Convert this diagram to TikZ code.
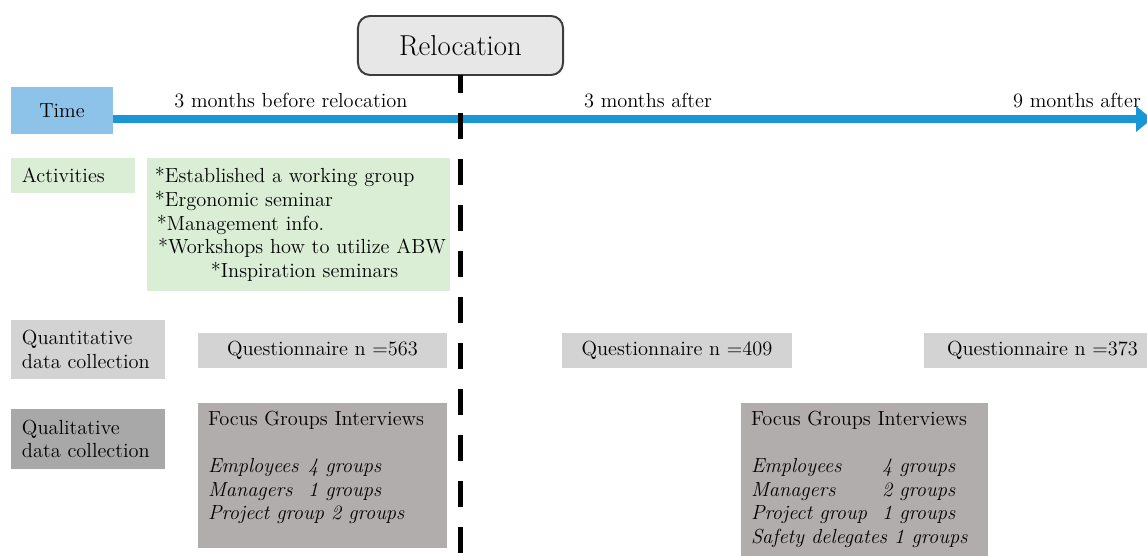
\documentclass[tikz,border=0pt]{standalone}
\usepackage{fontspec}
\usepackage{tikz}
\usetikzlibrary{arrows.meta}
\definecolor{timeBlue}{RGB}{142,195,233}
\definecolor{axisBlue}{RGB}{24,150,214}
\definecolor{actGreen}{RGB}{218,238,214}
\definecolor{quantGray}{RGB}{211,211,211}
\definecolor{qualGray}{RGB}{168,168,168}
\definecolor{focusGray}{RGB}{178,173,173}
\definecolor{relocGray}{RGB}{231,231,231}
\definecolor{relocEdge}{RGB}{60,60,60}
\newcommand{\txtsize}{\fontsize{14.5}{16.8}\selectfont}

\begin{document}
\begin{tikzpicture}[x=0.025cm, y=-0.025cm,
  box/.style={inner sep=0pt, outer sep=0pt, font=\txtsize},
  rowlabel/.style={box, align=left, inner xsep=0.275cm},
  quest/.style={box, fill=quantGray, minimum height=0.875cm},
  focus/.style={box, fill=focusGray, anchor=north west, inner xsep=0.25cm, inner ysep=0.2cm},
  timeline/.style={axisBlue, line width=0.2cm, -{Triangle[length=0.4cm, width=0.625cm]}},
  cutline/.style={black, line width=3.5pt, dash pattern=on 0.65cm off 0.5cm, dash phase=0.2cm}]
\useasboundingbox (0,0) rectangle (1147,556);
\clip (0,0) rectangle (1147,556);

% header and time axis
\node[box, fill=relocGray, draw=relocEdge, line width=1.4pt, rounded corners=0.3cm,
  minimum width=5.125cm, minimum height=1.475cm, font=\fontsize{20.5}{24}\selectfont] (reloc) at (460.5,45.5) {Relocation};
\node[box, fill=timeBlue, minimum width=2.55cm, minimum height=1.175cm] (time) at (62,110.5) {Time};
\node[box] (before) at (291,101) {3 months before relocation};
\node[box] (after3) at (648,101) {3 months after};
\node[box] (after9) at (1077,101) {9 months after};

% activities
\node[rowlabel, fill=actGreen, text width=2.55cm, minimum height=0.875cm] (act) at (73,175.5) {Activities};
\node[box, fill=actGreen, align=left, inner xsep=0.2cm, text width=7.175cm, minimum height=3.325cm] (actlist) at (298.5,224.5)
  {*Established a working group\\{}%
   *Ergonomic seminar\\{}%
   \hspace{0.05cm}*Management info.\\{}%
   \mbox{\hspace{0.08cm}*Workshops how to utilize ABW}\\{}%
   \hspace{1.4cm}*Inspiration seminars};

% quantitative data
\node[rowlabel, fill=quantGray, text width=3.3cm, minimum height=1.475cm] (quant) at (88,349.5) {Quantitative\\data collection};
\node[quest, minimum width=6.225cm] (q563) at (322.5,350.5) {Questionnaire n =563};
\node[quest, minimum width=5.75cm] (q409) at (677,350.5) {Questionnaire n =409};
\node[quest, minimum width=5.925cm] (q373) at (1042.5,350.5) {Questionnaire n =373};

% qualitative data
\node[rowlabel, fill=qualGray, text width=3.3cm, minimum height=1.5cm] (qual) at (88,439) {Qualitative\\data collection};
\node[focus] (fgbefore) at (198,403) {\parbox[t][3.225cm][t]{5.725cm}{%
  Focus Groups Interviews\\[\baselineskip]
  \itshape\makebox[2.5cm][l]{Employees}4 groups\\
  \makebox[2.5cm][l]{Managers}1 groups\\
  Project group 2 groups}};
\node[focus] (fgafter) at (741,403) {\parbox[t][3.8cm][t]{5.675cm}{%
  Focus Groups Interviews\\[\baselineskip]
  \itshape\makebox[3.275cm][l]{Employees}4 groups\\
  \makebox[3.275cm][l]{Managers}2 groups\\
  \makebox[3.275cm][l]{Project group}1 groups\\
  Safety delegates 1 groups}};

% axis and relocation line
\coordinate (tlend) at (1152,119);
\draw[timeline] (time.east |- tlend) -- (tlend);
\coordinate (cutend) at (460.5,560);
\draw[cutline] (reloc.south) -- (cutend);
\end{tikzpicture}
\end{document}
